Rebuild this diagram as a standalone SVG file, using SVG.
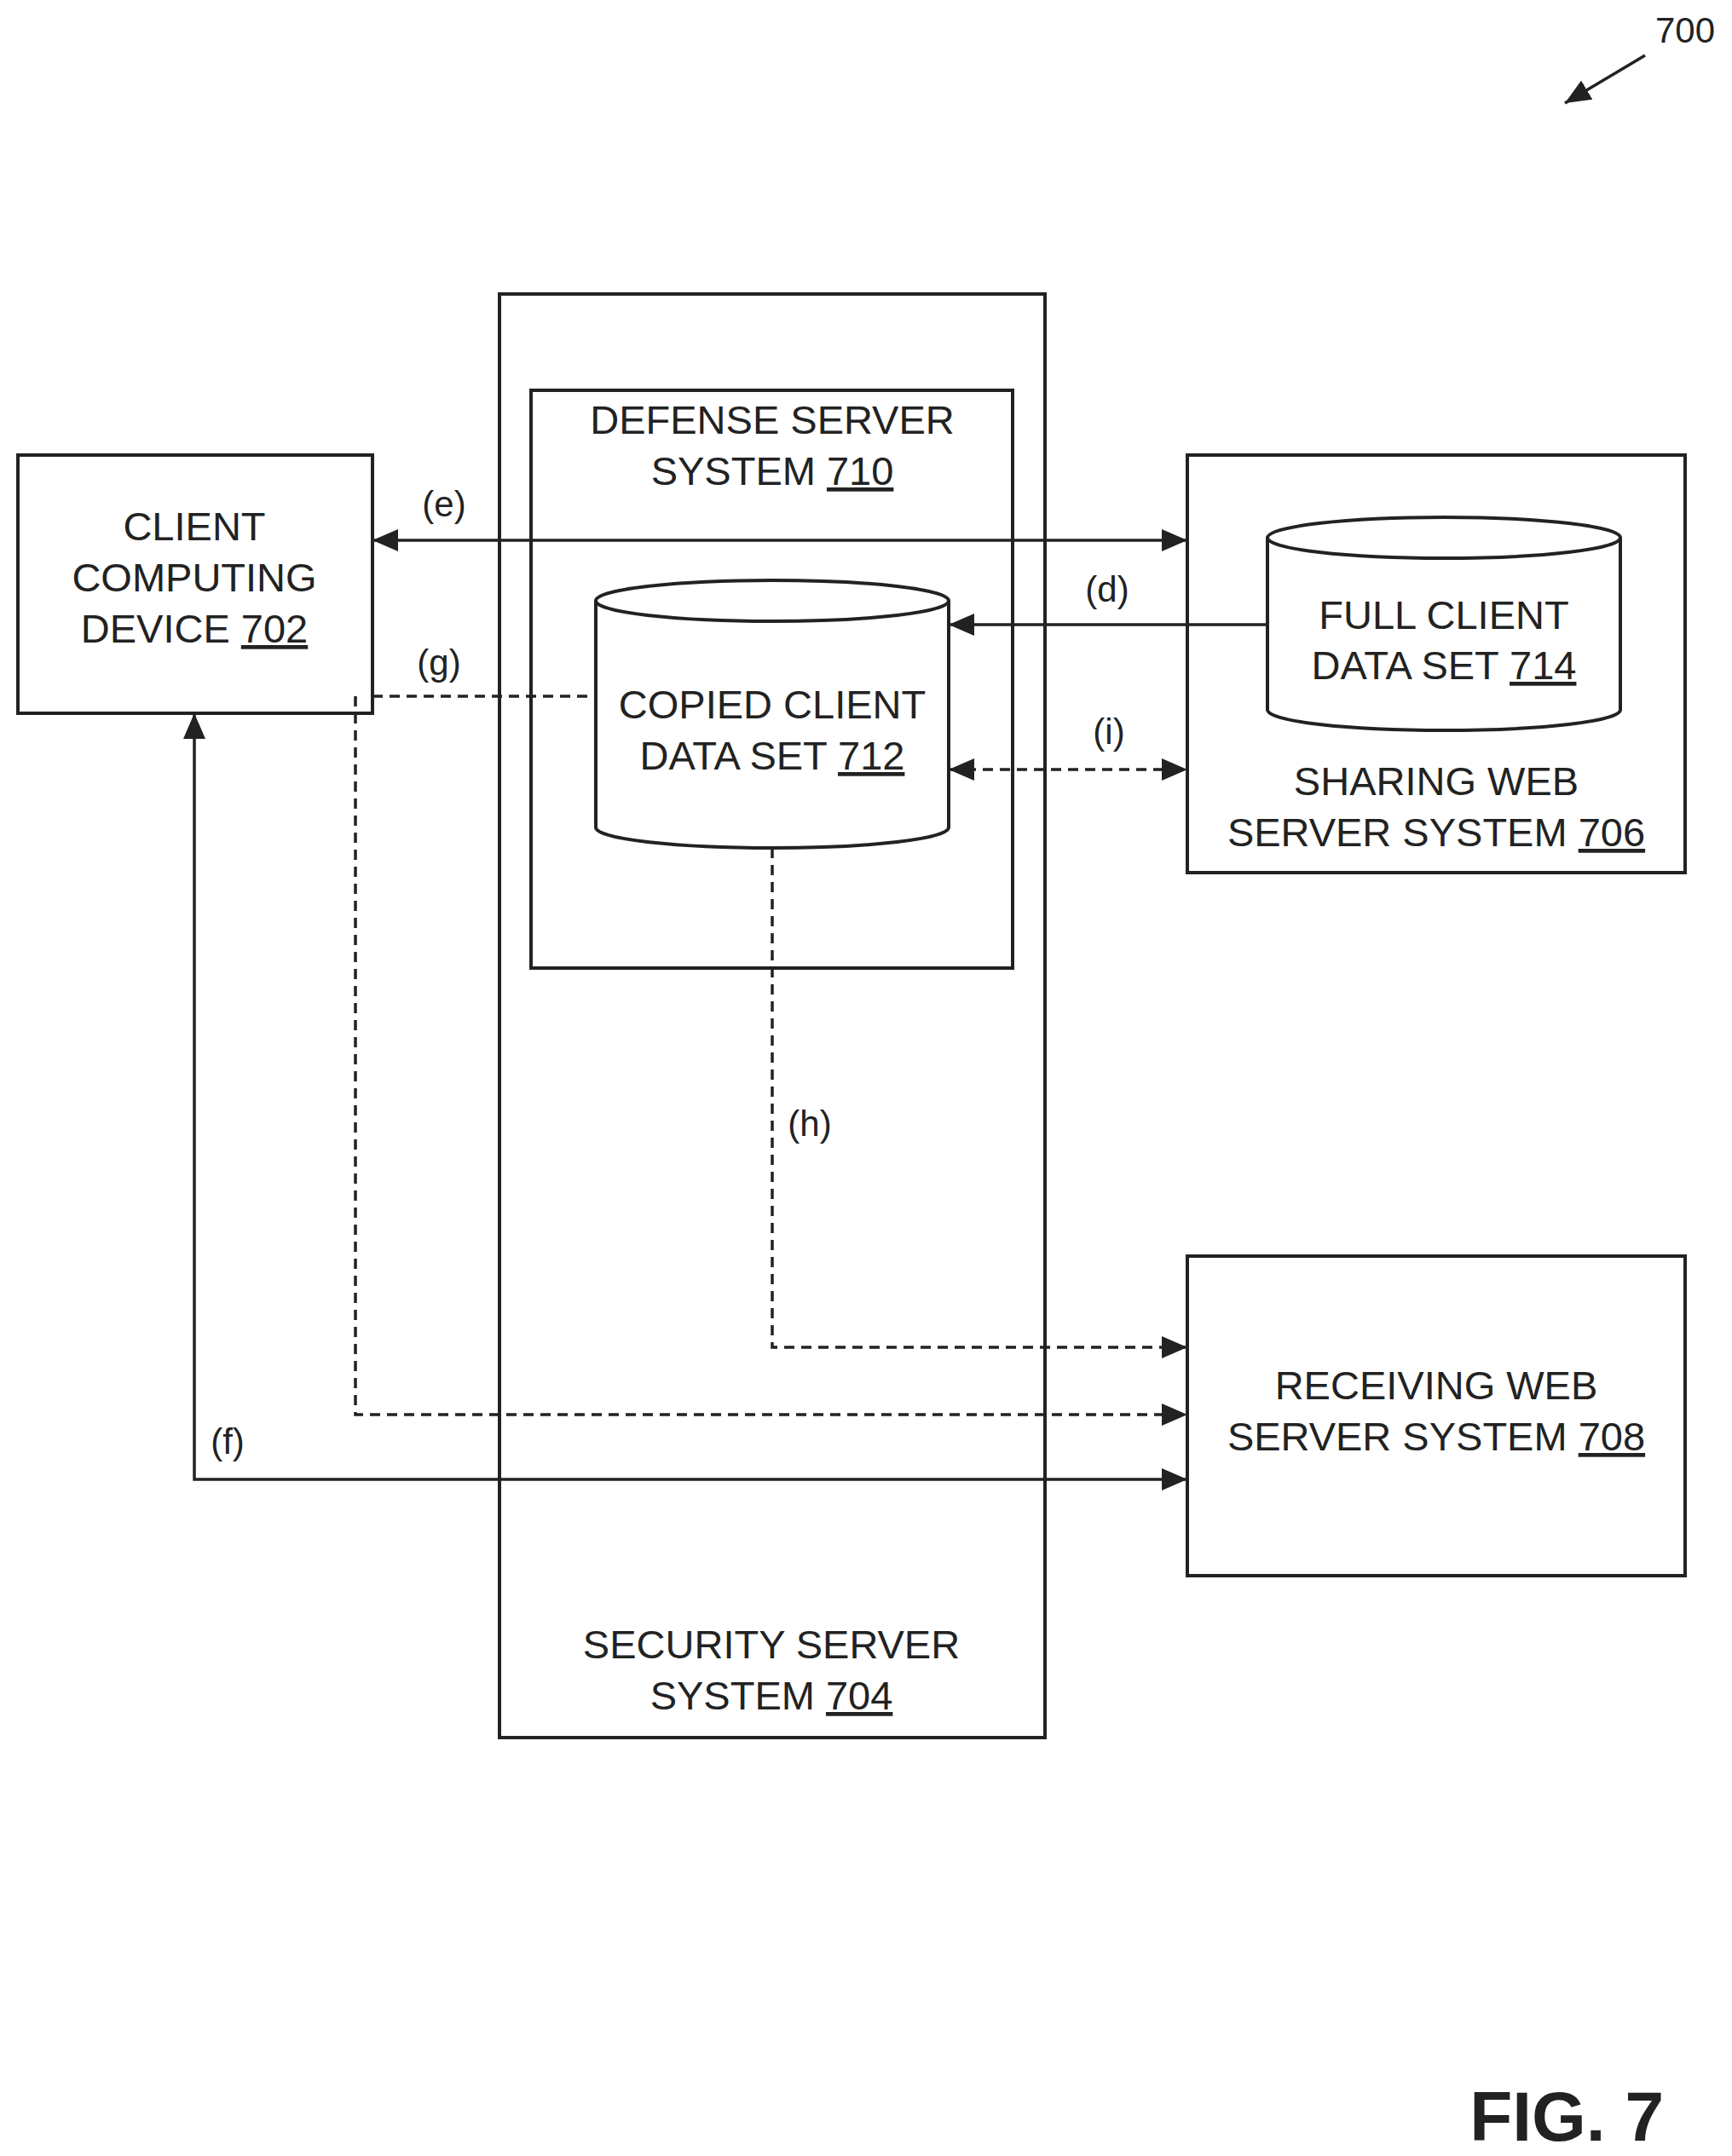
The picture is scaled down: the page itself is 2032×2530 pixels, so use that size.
<svg xmlns="http://www.w3.org/2000/svg" width="2032" height="2530" viewBox="0 0 2032 2530">
<style>
.b{fill:#fff;stroke:#222;stroke-width:4}
.t{font-family:"Liberation Sans",Arial,sans-serif;font-size:47px;fill:#222;text-anchor:middle}
.l{font-family:"Liberation Sans",Arial,sans-serif;font-size:42px;fill:#222;text-anchor:middle}
.c{fill:none;stroke:#222;stroke-width:3.5}
.d{stroke-dasharray:12 8}
</style>
<defs>
<marker id="a" viewBox="0 0 30 26" refX="30" refY="13" markerWidth="30" markerHeight="26" orient="auto-start-reverse" markerUnits="userSpaceOnUse"><path d="M0,0 L30,13 L0,26 z" fill="#222"/></marker>
</defs>
<rect width="2032" height="2530" fill="#fff"/>
<g id="security"><rect class="b" x="586" y="345" width="640" height="1694"/>
<text class="t" x="905" y="1946">SECURITY SERVER</text><text class="t" x="905" y="2006">SYSTEM <tspan text-decoration="underline">704</tspan></text></g>
<g id="defense"><rect class="b" x="623" y="458" width="565" height="678"/>
<text class="t" x="906" y="509">DEFENSE SERVER</text><text class="t" x="906" y="569">SYSTEM <tspan text-decoration="underline">710</tspan></text></g>
<g id="client"><rect class="b" x="21" y="534" width="416" height="303"/>
<text class="t" x="228" y="634">CLIENT</text><text class="t" x="228" y="694">COMPUTING</text><text class="t" x="228" y="754">DEVICE <tspan text-decoration="underline">702</tspan></text></g>
<g id="sharing"><rect class="b" x="1393" y="534" width="584" height="490"/>
<text class="t" x="1685" y="933">SHARING WEB</text><text class="t" x="1685" y="993">SERVER SYSTEM <tspan text-decoration="underline">706</tspan></text></g>
<g id="receiving"><rect class="b" x="1393" y="1474" width="584" height="375"/>
<text class="t" x="1685" y="1642">RECEIVING WEB</text><text class="t" x="1685" y="1702">SERVER SYSTEM <tspan text-decoration="underline">708</tspan></text></g>
<g id="copied"><path class="b" d="M699,705 V971 A207,24 0 0 0 1113,971 V705"/><ellipse class="b" cx="906" cy="705" rx="207" ry="24"/>
<text class="t" x="906" y="843">COPIED CLIENT</text><text class="t" x="906" y="903">DATA SET <tspan text-decoration="underline">712</tspan></text></g>
<g id="full"><path class="b" d="M1487,631 V833 A207,24 0 0 0 1901,833 V631"/><ellipse class="b" cx="1694" cy="631" rx="207" ry="24"/>
<text class="t" x="1694" y="738">FULL CLIENT</text><text class="t" x="1694" y="797">DATA SET <tspan text-decoration="underline">714</tspan></text></g>
<g id="connectors">
<path class="c" d="M437,634 H1393" marker-start="url(#a)" marker-end="url(#a)"/>
<path class="c" d="M1487,733 H1113" marker-end="url(#a)"/>
<path class="c d" d="M1113,903 H1393" marker-start="url(#a)" marker-end="url(#a)"/>
<path class="c d" d="M437,817 H699"/>
<path class="c d" d="M417,817 V1660 H1393" marker-end="url(#a)"/>
<path class="c d" d="M906,995 V1581 H1393" marker-end="url(#a)"/>
<path class="c" d="M228,837 V1736 H1393" marker-start="url(#a)" marker-end="url(#a)"/>
<path class="c" d="M1930,65 L1836,121" marker-end="url(#a)"/>
</g>
<g id="labels">
<text class="l" x="521" y="606">(e)</text>
<text class="l" x="1299" y="706">(d)</text>
<text class="l" x="515" y="792">(g)</text>
<text class="l" x="1301" y="873">(i)</text>
<text class="l" x="950" y="1333">(h)</text>
<text class="l" x="267" y="1706">(f)</text>
<text class="l" x="1977" y="50">700</text>
<text x="1952" y="2512" text-anchor="end" style="font-family:'Liberation Sans',Arial,sans-serif;font-size:82px;font-weight:bold;fill:#222">FIG. 7</text>
</g>
</svg>
